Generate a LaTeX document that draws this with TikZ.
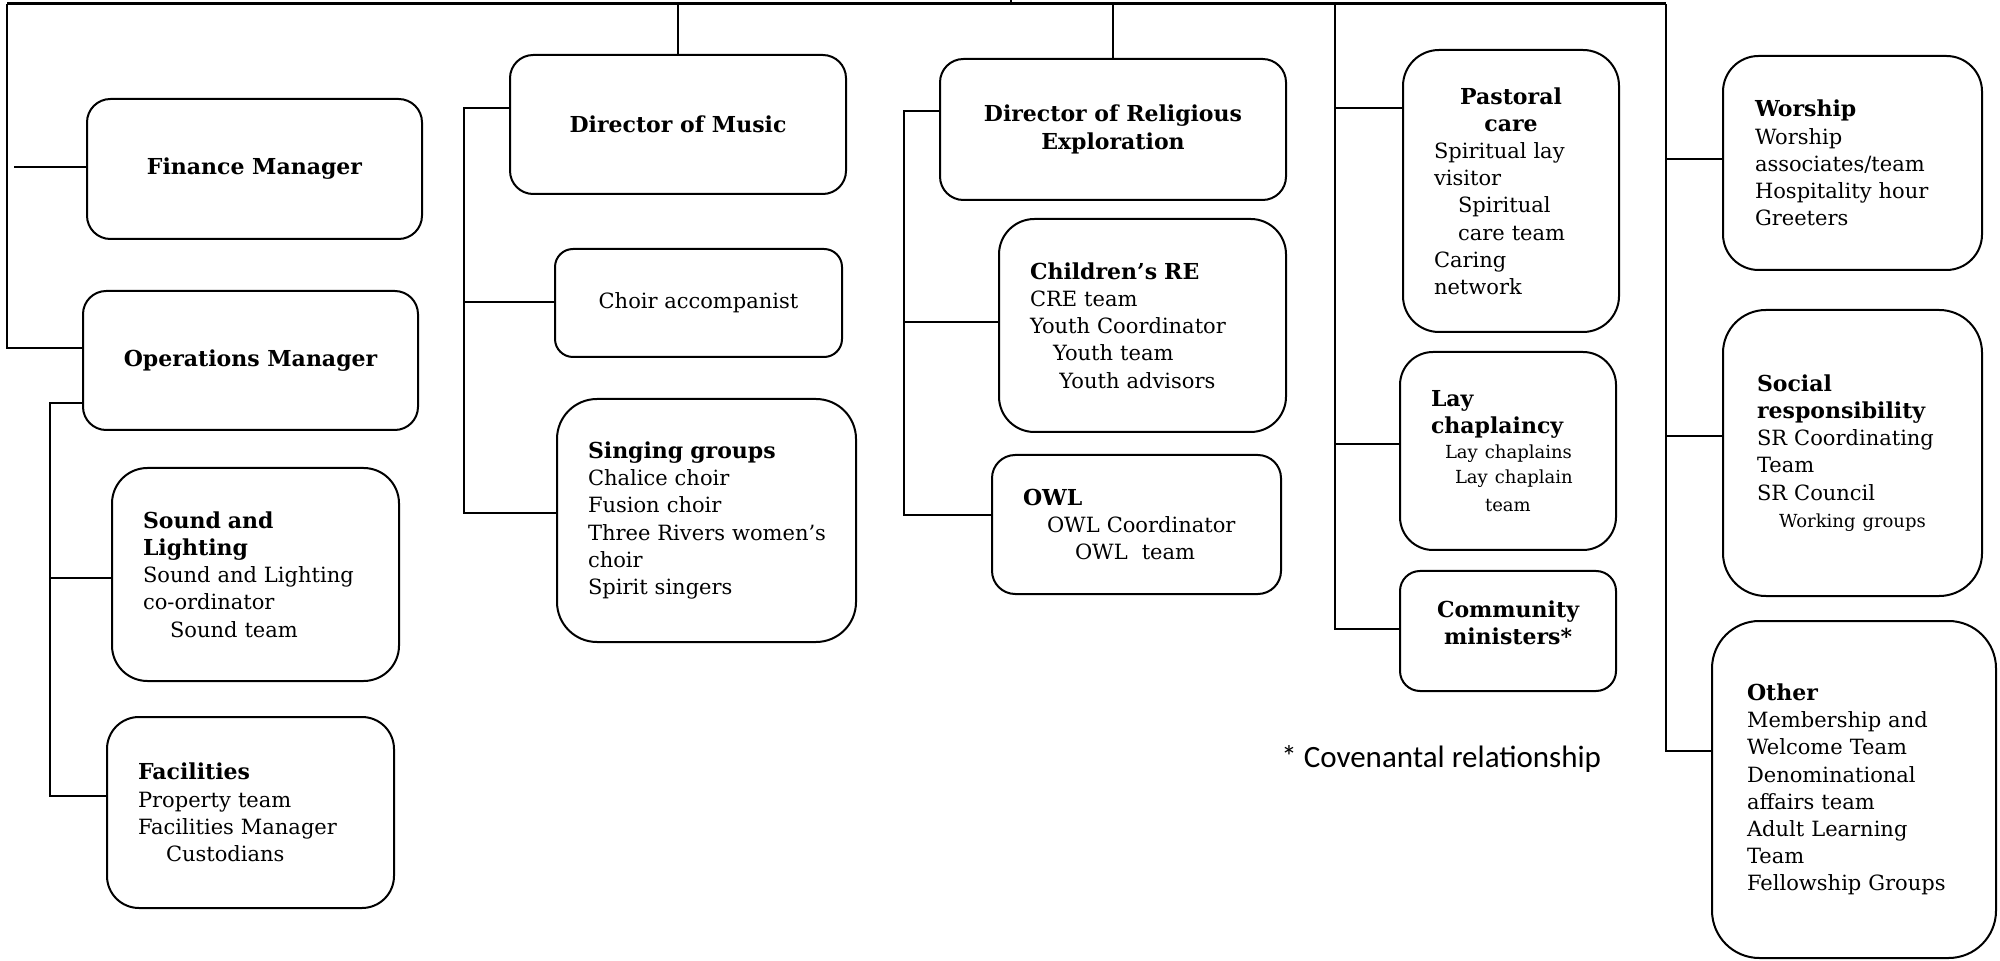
\documentclass[tikz,border=0pt]{standalone}
\usepackage{fontspec}
\setmainfont{DejaVu Serif}
\newfontfamily\notefont{Carlito}
\setlength{\parindent}{0pt}
\newcommand{\boxfont}{\fontsize{10.5}{13.6}\selectfont}
\newcommand{\headfont}{\fontsize{11}{13.6}\selectfont\bfseries}
\newcommand{\hd}[1]{{\headfont #1}}
\newcommand{\smallline}{\fontsize{9}{12.5}\selectfont}

\begin{document}
\begin{tikzpicture}[x=0.5pt,y=-0.5pt,
  box/.style={draw,line width=1pt,inner ysep=0pt,font=\boxfont},
  lbox/.style={box,align=left,inner xsep=15.5pt},
  cbox/.style={box,align=center},
  head/.style={cbox,font=\headfont},
  link/.style={line width=0.9pt},
  note/.style={inner sep=0pt,font=\notefont\fontsize{15.5}{18}\selectfont}]
\useasboundingbox (0,0) rectangle (2000,961);

\node[head,minimum width=167.5pt,minimum height=70pt,rounded corners=11.7pt] (Fin) at (254.5,169) {Finance Manager};
\node[head,minimum width=167.5pt,minimum height=69.5pt,rounded corners=11.6pt] (Ops) at (250.5,360.5) {Operations Manager};
\node[lbox,text width=112.5pt,minimum width=143.5pt,minimum height=106.5pt,rounded corners=17.7pt] (Snd) at (255.5,574.5)
  {\hd{Sound and}\\\hd{Lighting}\\Sound~and~Lighting\\co-ordinator\\\hspace*{13.5pt}Sound team};
\node[lbox,text width=112.5pt,minimum width=143.5pt,minimum height=95.5pt,rounded corners=16pt] (Fac) at (250.5,812.5)
  {\hd{Facilities}\\Property team\\Facilities~Manager\\\hspace*{14pt}Custodians};

\node[head,minimum width=168pt,minimum height=69.5pt,rounded corners=11.6pt] (Mus) at (678,124.5) {Director of Music};
\node[cbox,minimum width=143.5pt,minimum height=54pt,rounded corners=9pt] (Acc) at (698.5,303) {Choir accompanist};
\node[lbox,text width=118.5pt,minimum width=149.5pt,minimum height=121.5pt,rounded corners=20pt] (Sing) at (706.5,520.5)
  {\hd{Singing groups}\\Chalice choir\\Fusion choir\\Three~Rivers~women’s\\choir\\Spirit singers};

\node[head,minimum width=173pt,minimum height=70.5pt,rounded corners=11.7pt] (DRE) at (1113,129.5) {Director of Religious\\Exploration};
\node[lbox,text width=112.5pt,minimum width=143.5pt,minimum height=106.5pt,rounded corners=17.7pt] (CRE) at (1142.5,325.5)
  {\hd{Children’s RE}\\CRE team\\Youth~Coordinator\\\hspace*{11.5pt}Youth team\\\hspace*{14.7pt}Youth~advisors};
\node[lbox,text width=113.5pt,minimum width=144.5pt,minimum height=69.5pt,rounded corners=11.6pt,inner xsep=13.5pt] (OWL) at (1136.5,524.5)
  {\hd{OWL}\\\hspace*{12pt}OWL~Coordinator\\\hspace*{26pt}OWL\ \ team};

\node[lbox,text width=77pt,minimum width=108pt,minimum height=141pt,rounded corners=18pt] (Past) at (1511,191)
  {\makebox[77pt]{\hd{Pastoral}}\\\makebox[77pt]{\hd{care}}\\Spiritual lay\\visitor\\\hspace*{12pt}Spiritual\\\hspace*{12pt}care team\\Caring\\network};
\node[lbox,text width=77pt,minimum width=108pt,minimum height=99pt,rounded corners=16.5pt] (Lay) at (1508,451)
  {\hd{Lay}\\\hd{chaplaincy}\par\smallline\hspace*{7pt}Lay chaplains\\\hspace*{12pt}Lay chaplain\\\hspace*{27pt}team};
\node[head,minimum width=108pt,minimum height=60pt,rounded corners=10pt,text depth=8.5pt] (Com) at (1508,631) {Community\\ministers*};

\node[lbox,text width=97.5pt,minimum width=128.5pt,minimum height=107pt,rounded corners=17.8pt,inner xsep=16pt] (Wor) at (1852.5,163)
  {\hd{Worship}\\Worship\\associates/team\\Hospitality~hour\\Greeters};
\node[lbox,text width=95.5pt,minimum width=128.5pt,minimum height=143pt,rounded corners=21.4pt,inner xsep=17pt] (Soc) at (1852.5,453)
  {\hd{Social}\\\hd{responsibility}\\SR~Coordinating\\Team\\SR Council\\{\fontsize{9}{13}\selectfont\hspace*{11pt}Working~groups}};
\node[lbox,text width=107pt,minimum width=142pt,minimum height=168.5pt,rounded corners=23.7pt,inner xsep=17.5pt] (Oth) at (1854,789.5)
  {\hd{Other}\\Membership~and\\Welcome Team\\Denominational\\affairs team\\Adult~Learning\\Team\\Fellowship~Groups};

\node[note,anchor=west] (Cov) at (1281,759) {* Covenantal relationship};

\coordinate (T0) at (1011,0);
\coordinate (T1) at (7,4);
\coordinate (T2) at (1666,4);
\draw[line width=1.5pt] (T1)--(T2);
\draw[link] (T0)--(T0 |- T1);

\coordinate (L1) at (7,348);
\coordinate (L2) at (14,167);
\draw[link] (T1)--(L1)--(Ops.west |- L1);
\draw[link] (L2)--(Fin.west |- L2);

\coordinate (O1) at (50,403);
\coordinate (O2) at (50,578);
\coordinate (O3) at (50,796);
\draw[link] (Ops.west |- O1)--(O1)--(O3)--(Fac.west |- O3);
\draw[link] (O2)--(Snd.west |- O2);

\coordinate (M1) at (464,108);
\coordinate (M2) at (464,302);
\coordinate (M3) at (464,513);
\draw[link] (T1 -| Mus.north)--(Mus.north);
\draw[link] (Mus.west |- M1)--(M1)--(M3)--(Sing.west |- M3);
\draw[link] (M2)--(Acc.west |- M2);

\coordinate (D1) at (904,111);
\coordinate (D2) at (904,322);
\coordinate (D3) at (904,515);
\draw[link] (T1 -| DRE.north)--(DRE.north);
\draw[link] (DRE.west |- D1)--(D1)--(D3)--(OWL.west |- D3);
\draw[link] (D2)--(CRE.west |- D2);

\coordinate (P0) at (1335,4);
\coordinate (P1) at (1335,108);
\coordinate (P2) at (1335,444);
\coordinate (P3) at (1335,629);
\draw[link] (P0)--(P3)--(Com.west |- P3);
\draw[link] (P1)--(Past.west |- P1);
\draw[link] (P2)--(Lay.west |- P2);

\coordinate (R1) at (1666,159);
\coordinate (R2) at (1666,436);
\coordinate (R3) at (1666,751);
\draw[link] (T2)--(R3)--(Oth.west |- R3);
\draw[link] (R1)--(Wor.west |- R1);
\draw[link] (R2)--(Soc.west |- R2);
\end{tikzpicture}
\end{document}
